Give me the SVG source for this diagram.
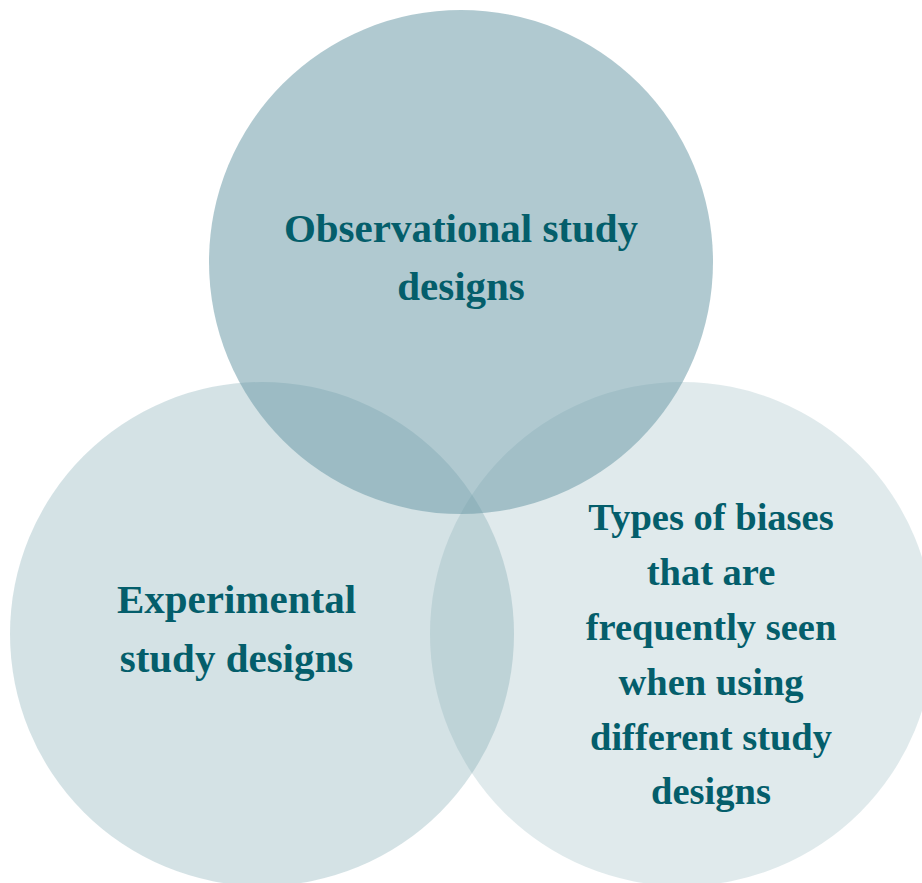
<svg xmlns="http://www.w3.org/2000/svg" width="922" height="883" viewBox="0 0 922 883">
  <style>
    .c { fill: #6b9aa7; }
    .t { font-family: "Liberation Serif", "Times New Roman", serif; font-weight: bold; fill: #045e6b; text-anchor: middle; }
    .big { font-size: 41px; }
    .small { font-size: 38.5px; }
  </style>
  <rect width="922" height="883" fill="#ffffff"/>
  <g id="node-experimental">
    <circle class="c" cx="262" cy="634" r="252" fill-opacity="0.29"/>
  </g>
  <g id="node-biases">
    <circle class="c" cx="682" cy="634" r="252" fill-opacity="0.21"/>
  </g>
  <g id="node-observational">
    <circle class="c" cx="461" cy="262" r="252" fill-opacity="0.535"/>
  </g>
  <g id="connectors"></g>
  <g id="labels">
    <text class="t big" x="461" y="242">Observational study</text>
    <text class="t big" x="461" y="300">designs</text>
    <text class="t big" x="236.5" y="612.5">Experimental</text>
    <text class="t big" x="236.5" y="671.5">study designs</text>
    <text class="t small" x="711" y="530">Types of biases</text>
    <text class="t small" x="711" y="585">that are</text>
    <text class="t small" x="711" y="640">frequently seen</text>
    <text class="t small" x="711" y="695">when using</text>
    <text class="t small" x="711" y="749.5">different study</text>
    <text class="t small" x="711" y="804">designs</text>
  </g>
</svg>
